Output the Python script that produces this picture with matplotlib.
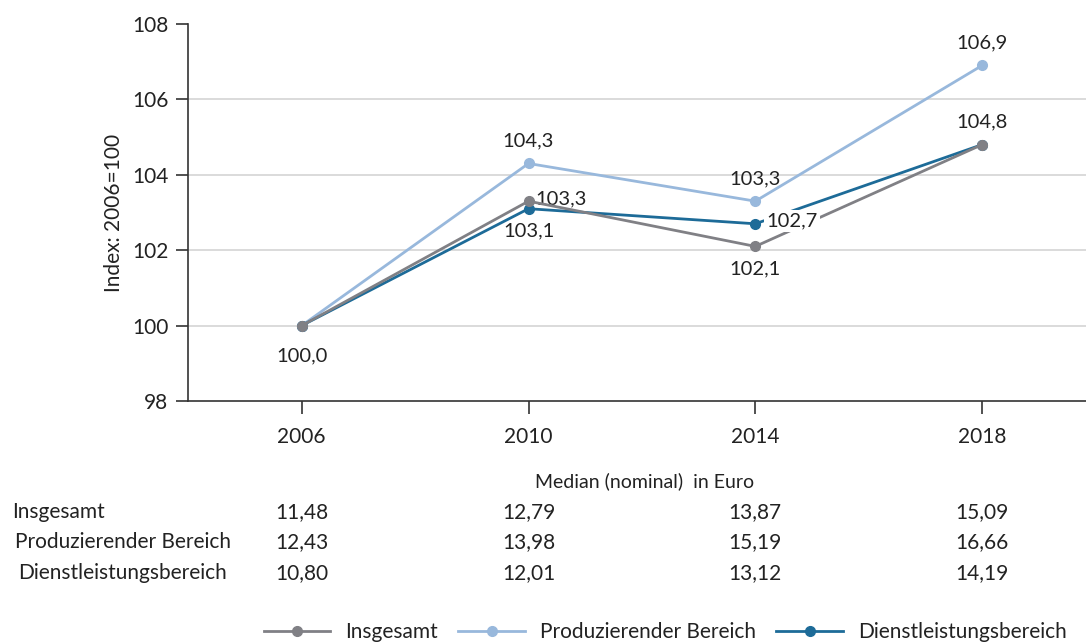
import matplotlib
matplotlib.use("Agg")
import matplotlib.pyplot as plt

# data
years = ["2006", "2010", "2014", "2018"]
insgesamt = [100.0, 103.3, 102.1, 104.8]
produzierend = [100.0, 104.3, 103.3, 106.9]
dienstleistung = [100.0, 103.1, 102.7, 104.8]

series_names = ["Insgesamt", "Produzierender Bereich", "Dienstleistungsbereich"]
median_header = "Median (nominal)  in Euro"
median_insgesamt = ["11,48", "12,79", "13,87", "15,09"]
median_produzierend = ["12,43", "13,98", "15,19", "16,66"]
median_dienstleistung = ["10,80", "12,01", "13,12", "14,19"]

y_ticks = [98, 100, 102, 104, 106, 108]

C_GRAY = "#808085"
C_LIGHT = "#98b8dc"
C_DARK = "#1d6b98"
TXT = "#222222"

plt.rcParams['font.family'] = ['Lato', 'DejaVu Sans']


def fmt(v):
    return "{:.1f}".format(v).replace(".", ",")


def main():
    fig = plt.figure(figsize=(10.86, 6.43), dpi=100)
    ax = fig.add_axes([0.173, 0.3764, 0.827, 0.5863])

    x = list(range(len(years)))

    ################# LINES #################
    l_light, = ax.plot(x, produzierend, color=C_LIGHT, lw=2, marker="o", ms=7, zorder=3)
    l_dark, = ax.plot(x, dienstleistung, color=C_DARK, lw=2, marker="o", ms=7, zorder=4)
    l_gray, = ax.plot(x, insgesamt, color=C_GRAY, lw=2, marker="o", ms=7, zorder=5)

    ################# AXES #################
    ax.set_xlim(-0.502, 3.458)
    ax.set_ylim(98, 108)
    ax.set_yticks(y_ticks)
    ax.set_xticks(x)
    ax.set_xticklabels(years)
    for t in y_ticks[1:-1]:
        ax.axhline(t, color="#d4d4d4", lw=1.2, zorder=1)
    for s in ["top", "right"]:
        ax.spines[s].set_visible(False)
    for s in ["left", "bottom"]:
        ax.spines[s].set_color("#333333")
        ax.spines[s].set_linewidth(1.2)
    ax.tick_params(axis="both", length=9, width=1.2, color="#333333",
                   labelsize=15, labelcolor=TXT, pad=5)
    ax.tick_params(axis="x", pad=10)
    ax.set_ylabel("Index: 2006=100", fontsize=15, color=TXT, labelpad=6)

    ################# DATA LABELS #################
    fs = 14.5
    ax.annotate(fmt(insgesamt[0]), (0, insgesamt[0]), xytext=(0, -28), textcoords="offset points",
                ha="center", va="bottom", fontsize=fs, color=TXT)
    ax.annotate(fmt(produzierend[1]), (1, produzierend[1]), xytext=(0, 10), textcoords="offset points",
                ha="center", va="bottom", fontsize=fs, color=TXT)
    ax.annotate(fmt(insgesamt[1]), (1, insgesamt[1]), xytext=(5, 2), textcoords="offset points",
                ha="left", va="center", fontsize=fs, color=TXT)
    ax.annotate(fmt(dienstleistung[1]), (1, dienstleistung[1]), xytext=(0, -10), textcoords="offset points",
                ha="center", va="top", fontsize=fs, color=TXT)
    ax.annotate(fmt(produzierend[2]), (2, produzierend[2]), xytext=(0, 10), textcoords="offset points",
                ha="center", va="bottom", fontsize=fs, color=TXT)
    ax.annotate(fmt(dienstleistung[2]), (2, dienstleistung[2]), xytext=(8, 2), textcoords="offset points",
                ha="left", va="center", fontsize=fs, color=TXT, zorder=6,
                bbox=dict(boxstyle="square,pad=0.1", fc="white", ec="none"))
    ax.annotate(fmt(insgesamt[2]), (2, insgesamt[2]), xytext=(0, -10), textcoords="offset points",
                ha="center", va="top", fontsize=fs, color=TXT)
    ax.annotate(fmt(produzierend[3]), (3, produzierend[3]), xytext=(0, 10), textcoords="offset points",
                ha="center", va="bottom", fontsize=fs, color=TXT)
    ax.annotate(fmt(insgesamt[3]), (3, insgesamt[3]), xytext=(0, 10), textcoords="offset points",
                ha="center", va="bottom", fontsize=fs, color=TXT)

    ################# TABLE #################
    fig_w, fig_h = 1086.0, 643.0
    header_y = 1 - 481 / fig_h
    fig.text(645 / fig_w, header_y, median_header, ha="center", va="center", fontsize=14, color=TXT)
    rows = [median_insgesamt, median_produzierend, median_dienstleistung]
    row_y = [512, 542, 573]
    row_x = [12, 15, 18]
    for name, vals, yy, xx in zip(series_names, rows, row_y, row_x):
        fy = 1 - yy / fig_h
        fig.text(xx / fig_w, fy, name, ha="left", va="center", fontsize=15, color=TXT)
        for i, v in enumerate(vals):
            px = ax.transData.transform((i, 100))[0]
            fig.text(px / fig_w, fy, v, ha="center", va="center", fontsize=15, color=TXT)

    ################# LEGEND #################
    fig.legend([l_gray, l_light, l_dark], series_names, loc="center", ncol=3,
               bbox_to_anchor=(665 / fig_w, 1 - 632 / fig_h), frameon=False,
               fontsize=15, handlelength=3.2, columnspacing=1.0, handletextpad=0.7,
               labelcolor=TXT)

    fig.savefig("out.png", dpi=100)


if __name__ == "__main__":
    main()
